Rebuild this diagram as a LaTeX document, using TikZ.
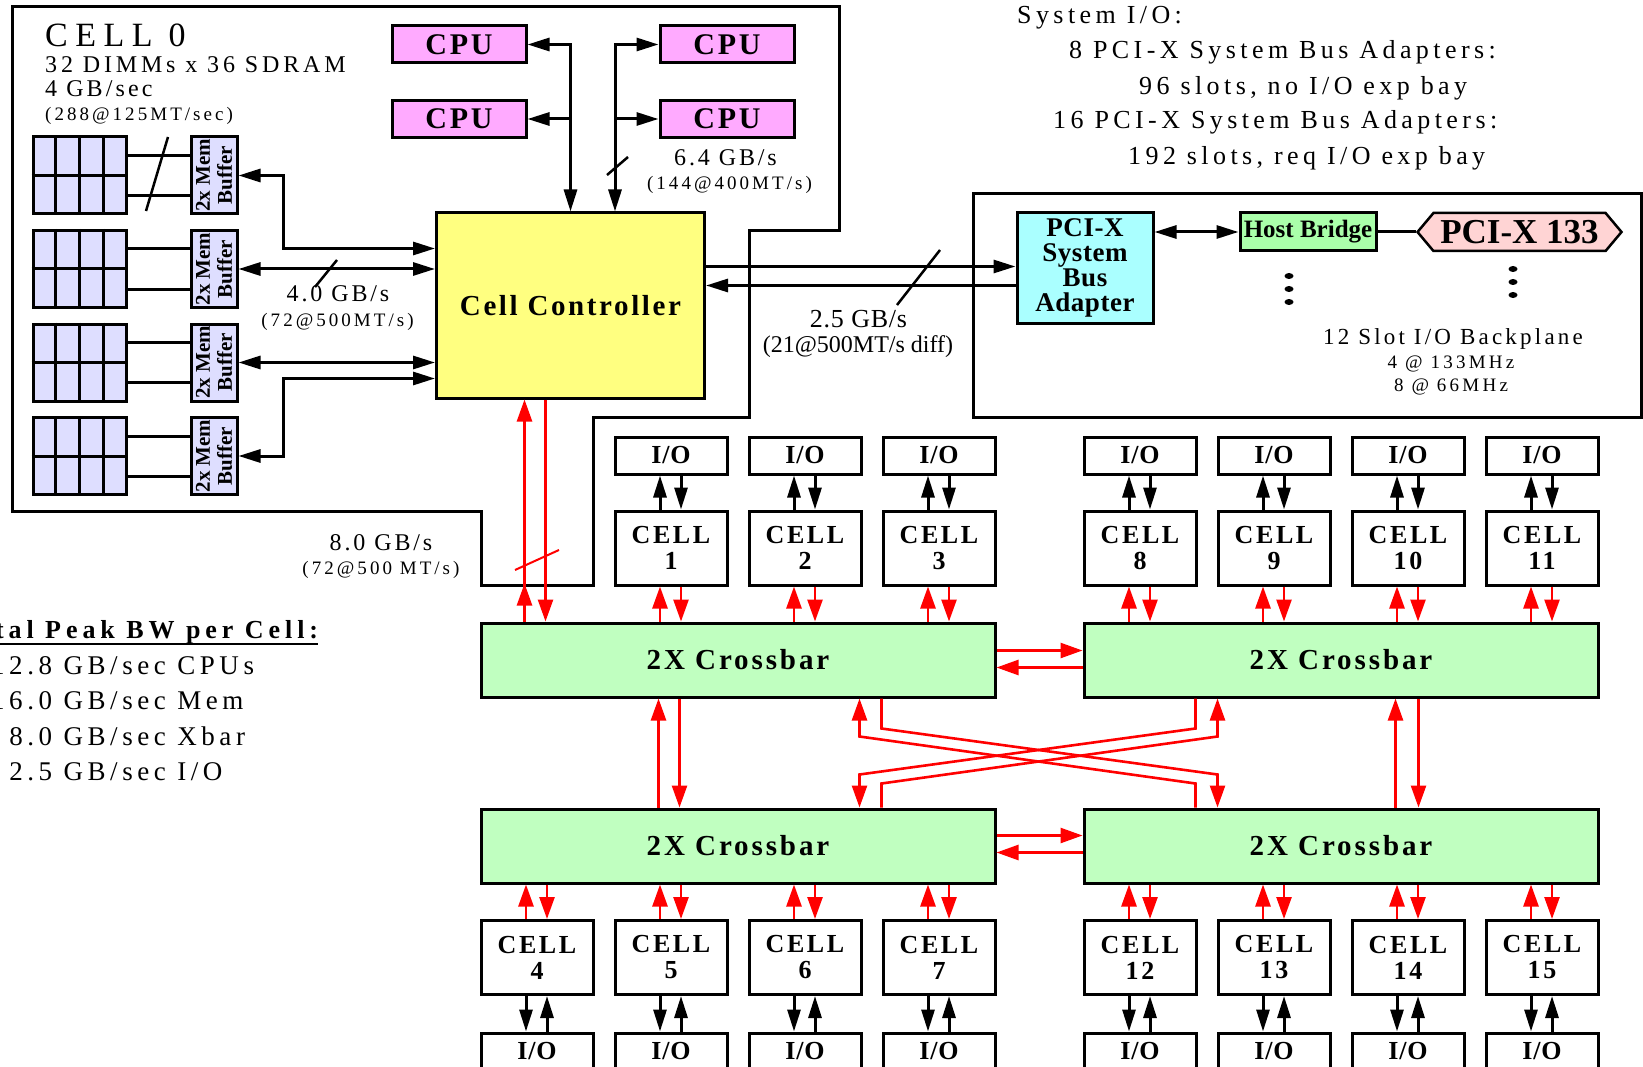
\documentclass[tikz,border=0pt]{standalone}
\usepackage{fontspec}
\setmainfont{Liberation Serif}
\usetikzlibrary{arrows.meta, calc, shapes.symbols}

\definecolor{cpupink}{RGB}{255,170,255}
\definecolor{ccyellow}{RGB}{255,255,128}
\definecolor{xbgreen}{RGB}{192,255,192}
\definecolor{memblue}{RGB}{222,222,255}
\definecolor{sbacyan}{RGB}{170,255,255}
\definecolor{hbgreen}{RGB}{170,255,170}
\definecolor{pcipink}{RGB}{255,212,212}

\newcommand{\setfnt}[3]{\fontsize{#1}{#2}\selectfont\addfontfeatures{LetterSpace=#3}}

\begin{document}
\begin{tikzpicture}[
    x=1pt, y=-1pt,
    >={Triangle[length=22pt, width=13pt]},
    box/.style     = {draw=black, line width=3pt, inner sep=0pt},
    cpu/.style     = {box, fill=cpupink, minimum width=134, minimum height=37, font=\bfseries\setfnt{30}{34}{9}},
    ctrl/.style    = {box, fill=ccyellow, minimum width=268, minimum height=185, font=\bfseries\setfnt{29}{33}{9}},
    mem/.style     = {box, fill=memblue, minimum width=93, minimum height=77},
    buf/.style     = {box, fill=memblue, minimum width=46, minimum height=77},
    buftxt/.style  = {rotate=90, align=center, inner sep=0pt, font=\bfseries\setfnt{21}{22}{0}},
    cellbox/.style = {box, fill=white, minimum width=112, minimum height=74, align=center, font=\bfseries\setfnt{26}{26}{10}},
    iobox/.style   = {box, fill=white, minimum width=112, minimum height=37, font=\bfseries\setfnt{26}{30}{3}},
    xbar/.style    = {box, fill=xbgreen, minimum width=514, minimum height=74, font=\bfseries\setfnt{29}{33}{10}},
    sba/.style     = {box, fill=sbacyan, minimum width=136, minimum height=111, align=center, font=\bfseries\setfnt{27}{25}{2}},
    host/.style    = {box, fill=hbgreen, minimum width=136, minimum height=38, font=\bfseries\setfnt{25}{28}{0}},
    bus/.style     = {signal, signal to=west and east, signal pointer angle=100, draw=black, line width=2.5pt,
                      fill=pcipink, minimum width=204, minimum height=38, inner sep=0pt, font=\bfseries\setfnt{35}{38}{0}},
    frame/.style   = {line width=3pt},
    blk/.style     = {line width=3pt, black},
    rl/.style      = {line width=2.6pt, red, >={Triangle[length=22pt, width=15pt]}},
    slash/.style   = {line width=2.5pt},
    txt/.style     = {inner sep=0pt, anchor=base west, font=\setfnt{24}{28}{16}},
    rate/.style    = {inner sep=0pt, anchor=base, font=\setfnt{24}{28}{12}},
    ratesm/.style  = {inner sep=0pt, anchor=base, font=\setfnt{19}{22}{16}},
    sys/.style     = {inner sep=0pt, anchor=base west, font=\setfnt{26}{30}{17}},
    legh/.style    = {inner sep=0pt, anchor=base west, font=\bfseries\setfnt{26}{30}{19}},
    leg/.style     = {inner sep=0pt, anchor=base west, font=\setfnt{27}{30}{17}}
  ]
  \useasboundingbox (0,0) rectangle (1643,1067);

  % --- cell 0 outline and text ---
  \draw[frame] (12,7) -- (839,7) -- (839,231) -- (749,231) -- (749,417) -- (593,417)
     -- (593,585) -- (481,585) -- (481,511) -- (12,511) -- cycle;
  \node[txt, font=\setfnt{34}{38}{22}] (c0name) at (45,46.5) {CELL 0};
  \node[txt] (c0dimm) at (45,72.5) {32 DIMMs x 36 SDRAM};
  \node[txt, font=\setfnt{24}{28}{13}] (c0bw) at (45,97) {4 GB/sec};
  \node[txt, font=\setfnt{19}{22}{16}] (c0rate) at (45,121) {(288@125MT/sec)};

  % --- CPUs and cell controller ---
  \node[cpu] (cpu1) at (459,44.5) {CPU};
  \node[cpu] (cpu2) at (459,119)  {CPU};
  \node[cpu] (cpu3) at (727,44.5) {CPU};
  \node[cpu] (cpu4) at (727,119)  {CPU};
  \node[ctrl] (cc) at (570.5,305.5) {Cell Controller};

  \draw[blk,<->] (cpu1.east) -| (cc.north);
  \draw[blk,->] (cc.north |- cpu2.east) -- (cpu2.east);
  \coordinate (rbus) at ([xshift=44.5]cc.north);
  \draw[blk,<->] (cpu3.west) -| (rbus);
  \draw[blk,->] (rbus |- cpu4.west) -- (cpu4.west);
  \draw[slash] (607,175) -- (628,157);
  \node[rate] (cpubw) at (725.5,166) {6.4 GB/s};
  \node[ratesm] (cpubwb) at (729.5,190) {(144@400MT/s)};

  % --- memory banks ---
  \foreach \i/\y in {1/175.5, 2/269, 3/362.5, 4/456} {
    \node[mem] (dimm\i) at (79.5,\y) {};
    \foreach \k in {1,2,3}
      \draw[frame] ($(dimm\i.north west)!\k/4!(dimm\i.north east)$) -- ($(dimm\i.south west)!\k/4!(dimm\i.south east)$);
    \draw[frame] (dimm\i.west) -- (dimm\i.east);
    \node[buf] (buf\i) at (214,\y) {};
    \node[buftxt] (bt\i) at (buf\i) {2x Mem\\Buffer};
    \draw[blk] ($(dimm\i.north east)!0.25!(dimm\i.south east)$) -- ($(buf\i.north west)!0.25!(buf\i.south west)$);
    \draw[blk] ($(dimm\i.north east)!0.75!(dimm\i.south east)$) -- ($(buf\i.north west)!0.75!(buf\i.south west)$);
  }
  \draw[slash] (146,211) -- (168,137);

  \draw[blk,<->] (buf1.east) -- ++(45,0) |- ($(cc.north west)+(0,37)$);
  \draw[blk,<->] (buf2.east) -- (buf2.east -| cc.west);
  \draw[blk,<->] (buf3.east) -- (buf3.east -| cc.west);
  \draw[blk,<->] (buf4.east) -- ++(45,0) |- ($(cc.north west)+(0,167)$);
  \draw[slash] (315,287) -- (337,260);
  \node[rate] (membw) at (338,301.5) {4.0 GB/s};
  \node[ratesm] (membwb) at (337.5,326) {(72@500MT/s)};

  % --- system I/O ---
  \node[sys] (sys1) at (1017,24)  {System I/O:};
  \node[sys] (sys2) at (1069,59)  {8 PCI-X System Bus Adapters:};
  \node[sys] (sys3) at (1139,95)  {96 slots, no I/O exp bay};
  \node[sys] (sys4) at (1053,129) {16 PCI-X System Bus Adapters:};
  \node[sys] (sys5) at (1128,165) {192 slots, req I/O exp bay};

  \draw[frame] (973,194) rectangle (1641,417);
  \node[sba] (sba) at (1085,268) {PCI-X\\System\\Bus\\Adapter};
  \node[host] (host) at (1308,232) {Host Bridge};
  \node[bus] (pcix) at (1519.5,232) {PCI-X 133};
  \draw[blk,<->] (sba.east |- host) -- (host.west);
  \draw[blk] (host.east) -- (pcix.west);
  \foreach \d in {0,13,26} {
    \fill (1289,276+\d) ellipse (4.5 and 3);
    \fill (1513,269+\d) ellipse (4.5 and 3);
  }
  \node[rate, font=\setfnt{23}{26}{14}] (bp) at (1453,344) {12 Slot I/O Backplane};
  \node[ratesm, font=\setfnt{19}{22}{17}] (bp133) at (1451,368) {4 @ 133MHz};
  \node[ratesm, font=\setfnt{19}{22}{17}] (bp66) at (1451,391) {8 @ 66MHz};

  \coordinate (ioA) at ($(cc.north east)+(0,55)$);
  \coordinate (ioB) at ($(cc.north east)+(0,74)$);
  \draw[blk,->] (ioA) -- (ioA -| sba.west);
  \draw[blk,->] (ioB -| sba.west) -- (ioB);
  \draw[slash] (897,305) -- (940,250);
  \node[rate, font=\setfnt{26}{30}{3}] (iobw) at (858.5,327) {2.5 GB/s};
  \node[rate, font=\setfnt{24}{28}{0}] (iobwb) at (858,352) {(21@500MT/s diff)};

  % --- crossbars ---
  \node[xbar] (xbA) at (738,660)  {2X Crossbar};
  \node[xbar] (xbB) at (1341,660) {2X Crossbar};
  \node[xbar] (xbC) at (738,846)  {2X Crossbar};
  \node[xbar] (xbD) at (1341,846) {2X Crossbar};

  % cell 0 to crossbar
  \coordinate (up0) at ($(xbA.north west)+(45,0)$);
  \coordinate (dn0) at ($(xbA.north west)+(66,0)$);
  \draw[rl,->] (up0) -- (up0 |- cc.south);
  \draw[rl,->] (up0) -- ++(0,-38);
  \draw[rl,->] (dn0 |- cc.south) -- (dn0);
  \draw[red, line width=2pt] (515,570) -- (559,550);
  \node[rate] (xbbw) at (381,550) {8.0 GB/s};
  \node[ratesm] (xbbwb) at (381,574) {(72@500 MT/s)};

  % --- cells, top row ---
  \foreach \n/\x/\xb in {1/671/xbA, 2/805/xbA, 3/939/xbA, 8/1140/xbB, 9/1274/xbB, 10/1408/xbB, 11/1542/xbB} {
    \node[iobox] (io\n) at (\x,455.5) {I/O};
    \node[cellbox] (c\n) at (\x,548) {CELL\\\n};
    \draw[blk,->] ([xshift=-11]c\n.north) -- ([xshift=-11]io\n.south);
    \draw[blk,->] ([xshift=10]io\n.south) -- ([xshift=10]c\n.north);
    \coordinate (up\n) at ([xshift=-11]c\n.south);
    \coordinate (dn\n) at ([xshift=10]c\n.south);
    \draw[rl,->] (up\n |- \xb.north) -- (up\n);
    \draw[rl,->] (dn\n) -- (dn\n |- \xb.north);
  }

  % --- cells, bottom row ---
  \foreach \n/\x/\xb in {4/537/xbC, 5/671/xbC, 6/805/xbC, 7/939/xbC, 12/1140/xbD, 13/1274/xbD, 14/1408/xbD, 15/1542/xbD} {
    \node[cellbox] (c\n) at (\x,957.5) {CELL\\\n};
    \node[iobox] (io\n) at (\x,1051.5) {I/O};
    \draw[blk,->] ([xshift=-11]c\n.south) -- ([xshift=-11]io\n.north);
    \draw[blk,->] ([xshift=10]io\n.north) -- ([xshift=10]c\n.south);
    \coordinate (up\n) at ([xshift=-11]c\n.north);
    \coordinate (dn\n) at ([xshift=10]c\n.north);
    \draw[rl,->] (up\n) -- (up\n |- \xb.south);
    \draw[rl,->] (dn\n |- \xb.south) -- (dn\n);
  }

  % --- crossbar to crossbar ---
  \coordinate (hA) at ($(xbA.north east)+(0,29)$);
  \coordinate (hB) at ($(xbA.north east)+(0,46)$);
  \draw[rl,->] (hA) -- (hA -| xbB.west);
  \draw[rl,->] (hB -| xbB.west) -- (hB);
  \coordinate (hC) at ($(xbC.north east)+(0,28)$);
  \coordinate (hD) at ($(xbC.north east)+(0,45)$);
  \draw[rl,->] (hC) -- (hC -| xbD.west);
  \draw[rl,->] (hD -| xbD.west) -- (hD);

  \coordinate (vA) at ($(xbA.south west)+(179,0)$);
  \coordinate (vB) at ($(xbA.south west)+(200,0)$);
  \draw[rl,->] (vA |- xbC.north) -- (vA);
  \draw[rl,->] (vB) -- (vB |- xbC.north);
  \coordinate (vC) at ($(xbB.south west)+(313,0)$);
  \coordinate (vD) at ($(xbB.south west)+(336,0)$);
  \draw[rl,->] (vC |- xbD.north) -- (vC);
  \draw[rl,->] (vD) -- (vD |- xbD.north);

  \coordinate (kA1) at ($(xbA.south west)+(380,0)$);
  \coordinate (kA2) at ($(xbA.south west)+(402,0)$);
  \coordinate (kB1) at ($(xbB.south west)+(113,0)$);
  \coordinate (kB2) at ($(xbB.south west)+(135,0)$);
  \draw[rl,->] (kA2) -- ++(0,30) -- ($(kB2)+(0,76)$) -- (kB2 |- xbD.north);
  \draw[rl,->] (kB1 |- xbD.north) -- ($(kB1)+(0,85)$) -- ($(kA1)+(0,38)$) -- (kA1);
  \draw[rl,->] (kB1) -- ++(0,30) -- ($(kA1)+(0,76)$) -- (kA1 |- xbC.north);
  \draw[rl,->] (kA2 |- xbC.north) -- ($(kA2)+(0,85)$) -- ($(kB2)+(0,38)$) -- (kB2);

  % --- peak bandwidth legend ---
  \node[legh] (tot) at (-43,638) {Total Peak BW per Cell:};
  \draw[line width=2.5pt] ($(tot.base west)+(-5,6)$) -- ($(tot.base east)+(0,6)$);
  \node[leg] (bwcpu) at (-4,674) {\makebox[56pt][r]{12.8} GB/sec CPUs};
  \node[leg] (bwmem) at (-4,709) {\makebox[56pt][r]{16.0} GB/sec Mem};
  \node[leg] (bwxb)  at (-4,745) {\makebox[56pt][r]{8.0} GB/sec Xbar};
  \node[leg] (bwio)  at (-4,780) {\makebox[56pt][r]{2.5} GB/sec I/O};

\end{tikzpicture}
\end{document}
